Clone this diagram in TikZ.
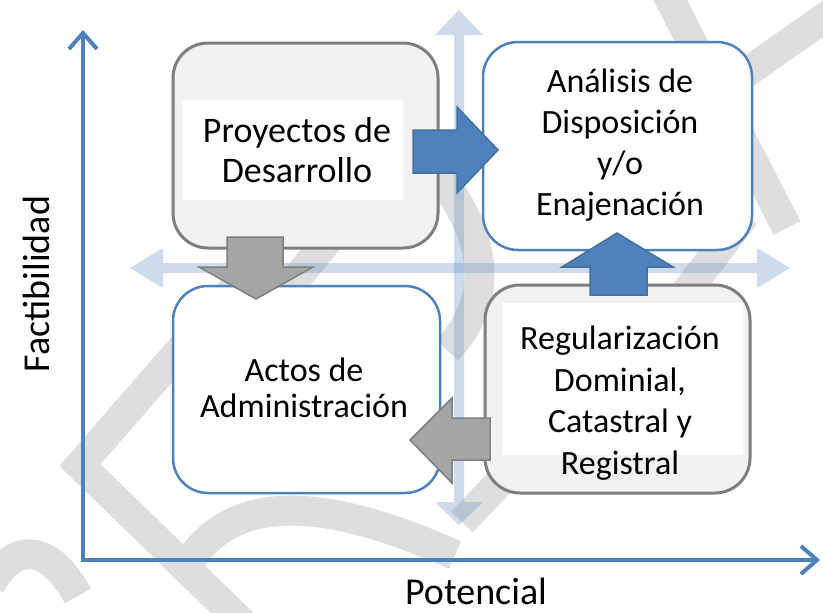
\documentclass[tikz,border=0pt]{standalone}
\usepackage{fontspec}
\setmainfont{Carlito}
\usetikzlibrary{arrows.meta}
\definecolor{axblue}{HTML}{4F81BD}
\definecolor{bxgray}{HTML}{7F7F7F}
\definecolor{bxfill}{HTML}{F2F2F2}
\definecolor{arrgray}{HTML}{A5A5A5}
\definecolor{arredge}{HTML}{41719C}
\definecolor{wm}{HTML}{DEDEDE}
\tikzset{
  wmark/.style={draw=wm, line width=30, line cap=butt, line join=miter},
  axis/.style={draw=axblue, line width=4, line join=miter,
    {Straight Barb[length=16pt,width=28pt]}-{Straight Barb[length=16pt,width=28pt]}},
  gbox/.style={draw=bxgray, fill=bxfill, line width=3, rounded corners=35, inner sep=0},
  bbox/.style={draw=axblue, fill=white, line width=2.5, rounded corners=35, inner sep=0},
  lbl/.style={font=\fontsize{34}{41}\selectfont, align=center, inner sep=0},
  cross/.style={fill=axblue, fill opacity=0.28},
  barrow/.style={fill=axblue, draw=arredge, line width=1.5, line join=miter},
  garrow/.style={fill=arrgray, draw=bxgray, line width=1.5, line join=miter},
  inner/.style={fill=white, draw=none}
}
\begin{document}
\begin{tikzpicture}[x=1pt,y=-1pt]
\useasboundingbox (0,0) rectangle (823,613);
\fill[white] (0,0) rectangle (823,613);
% watermark
\begin{scope}
\clip (0,0) rectangle (823,613);
\draw[wmark] (660,-20) -- (787,228);
\draw[wmark] (850,0) -- (700,105);
\draw[wmark] (250,270) -- (80,465) -- (260,640);
\draw[wmark] (-10,585) .. controls (15,540) and (50,545) .. (78,596);
\draw[wmark] (190,560) .. controls (235,495) and (320,495) .. (455,555);
\draw[wmark] (430,165) .. controls (490,235) and (495,300) .. (447,350);
\draw[wmark] (335,232) -- (280,298);
\draw[wmark] (462,522) -- (540,440);
\draw[wmark] (680,300) -- (745,215);
\end{scope}
% light cross arrows
\fill[cross] (130,268) -- (163,248) -- (163,263) -- (757,263) -- (757,248) -- (790,268)
  -- (757,288) -- (757,273) -- (163,273) -- (163,288) -- cycle;
\fill[cross] (459,10) -- (483,35) -- (464,35) -- (464,502) -- (483,502) -- (459,525)
  -- (435,502) -- (454,502) -- (454,35) -- (435,35) -- cycle;
% axes
\coordinate (Ytop) at (83,30);
\coordinate (O) at (83,560);
\coordinate (Xend) at (820,560);
\draw[axis] (Ytop) -- (O) -- (Xend);
\node[font=\fontsize{38}{44}\selectfont, rotate=90, anchor=base, inner sep=0] (ylab) at (49,284) {Factibilidad};
\node[font=\fontsize{38}{44}\selectfont, anchor=base, inner sep=0] (xlab) at (476,604) {Potencial};
% boxes
\node[gbox, minimum width=265, minimum height=205] (P) at (305.5,145.5) {};
\fill[inner] (182,100) rectangle (403,200);
\node[lbl, font=\fontsize{36}{40}\selectfont] (tP) at (297,150) {Proyectos de\\Desarrollo};
\node[bbox, minimum width=269, minimum height=208] (A) at (617.5,146) {};
\node[lbl] (tA) at (620,145) {Análisis de\\Disposición\\y/o\\Enajenación};
\node[bbox, minimum width=267, minimum height=207] (C) at (306.5,389.5) {};
\node[lbl, font=\fontsize{34}{36}\selectfont] (tC) at (304,388) {Actos de\\Administración};
\node[gbox, minimum width=265, minimum height=208] (R) at (617.5,389) {};
\fill[inner] (502,303) rectangle (743,455);
\node[lbl, font=\fontsize{34}{41.7}\selectfont] (tR) at (620,403) {Regularización\\Dominial,\\Catastral y\\Registral};
% block arrows
\draw[barrow] (413,130) -- (457,130) -- (457,107) -- (498,150) -- (457,193) -- (457,173) -- (413,173) -- cycle;
\draw[barrow] (590,295) -- (590,267) -- (562,267) -- (617,233) -- (673,267) -- (647,267) -- (647,295) -- cycle;
\draw[garrow] (227,237) -- (283,237) -- (283,267) -- (313,267) -- (256,299) -- (199,267) -- (227,267) -- cycle;
\draw[garrow] (490,418) -- (452,418) -- (452,398) -- (410,440) -- (452,483) -- (452,460) -- (490,460) -- cycle;
\end{tikzpicture}
\end{document}
